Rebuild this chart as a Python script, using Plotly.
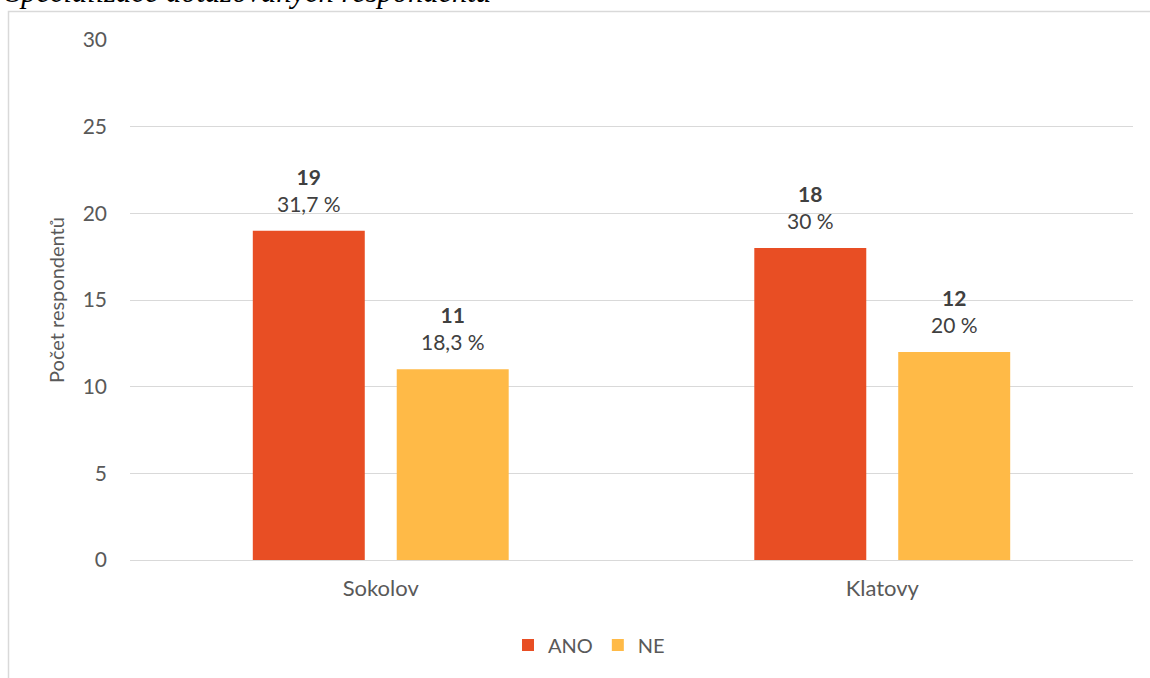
import plotly.graph_objects as go

# Data
regions = ["Sokolov", "Klatovy"]
ano = [19, 18]
ne = [11, 12]
total_respondents = 60

series_names = ["ANO", "NE"]
colors = ["#E84E24", "#FFBA47"]

W, H = 1150, 678
ML, MR, MT, MB = 130, 17, 40, 118
PW, PH = W - ML - MR, H - MT - MB
BARGAP, BARGROUPGAP = 0.426, 0.222


def px_x(px):
    return (px - ML) / PW


def px_y(py):
    return (H - MB - py) / PH


def pct_label(v):
    p = round(v / total_respondents * 100, 1)
    s = f"{p:.1f}".replace(".", ",")
    if s.endswith(",0"):
        s = s[:-2]
    return f"<b>{v}</b><br>{s} %"


FONT = "Lato, Open Sans, sans-serif"

fig = go.Figure()
for name, vals, col in zip(series_names, [ano, ne], colors):
    fig.add_trace(go.Bar(
        x=regions, y=vals, name=name,
        marker=dict(color=col, line=dict(width=0)),
    ))

# value labels above each bar, centred on the bar within its group
slot = PW / len(regions) * (1 - BARGAP) / len(series_names)
for i, vals in enumerate([ano, ne]):
    shift = (i - (len(series_names) - 1) / 2) * slot
    for reg, v in zip(regions, vals):
        fig.add_annotation(x=reg, y=v, text=pct_label(v), showarrow=False,
                           xshift=shift, yshift=13, yanchor="bottom",
                           font=dict(family=FONT, size=21, color="#404040"))

fig.update_layout(
    width=W, height=H,
    margin=dict(l=ML, r=MR, t=MT, b=MB),
    paper_bgcolor="white", plot_bgcolor="white",
    barmode="group", bargap=BARGAP, bargroupgap=BARGROUPGAP,
    font=dict(family=FONT, size=20, color="#595959"),
    showlegend=True,
    legend=dict(orientation="h", x=px_x(589), xanchor="center", y=px_y(645), yanchor="middle",
                font=dict(size=20, color="#595959"), itemwidth=30,
                traceorder="normal"),
)
fig.update_yaxes(range=[0, 30], dtick=5, showgrid=True, gridcolor="#D9D9D9", gridwidth=1,
                 zeroline=False, showline=False, ticks="", ticklabelstandoff=22,
                 tickfont=dict(size=21, color="#595959"),
                 title=dict(text="Počet respondentů", font=dict(size=20, color="#595959"), standoff=12))
fig.update_xaxes(showline=True, linecolor="#D9D9D9", linewidth=1, ticks="", ticklabelstandoff=9,
                 tickfont=dict(size=22, color="#595959"))

# Chart frame and heading
fig.add_shape(type="rect", xref="paper", yref="paper",
              x0=px_x(8.5), x1=px_x(1170), y0=px_y(700), y1=px_y(11.5),
              line=dict(color="#D9D9D9", width=1.5), fillcolor="rgba(0,0,0,0)", layer="below")
fig.add_annotation(text="<i>Specializace dotazovaných respondentů</i>", xref="paper", yref="paper",
                   x=px_x(4), y=px_y(11), xanchor="left", yanchor="bottom", showarrow=False,
                   font=dict(family="Liberation Serif, Times New Roman, serif", size=30.5, color="black"))

fig.write_html("out.html")
